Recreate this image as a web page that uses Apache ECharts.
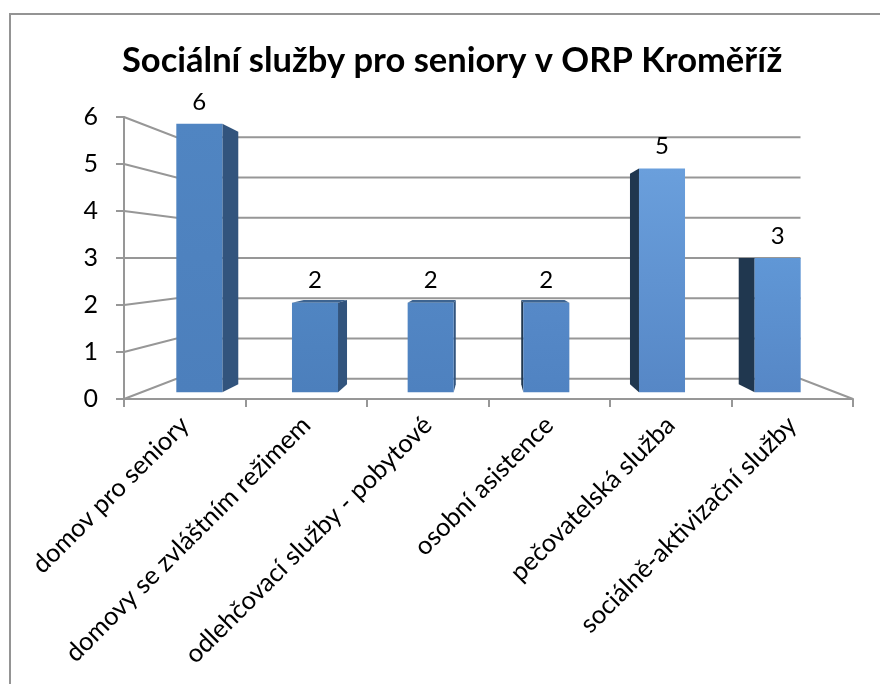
<!DOCTYPE html>
<html>
<head>
<meta charset="utf-8">
<title>Sociální služby pro seniory v ORP Kroměříž</title>
<script src="https://cdn.jsdelivr.net/npm/echarts@6/dist/echarts.min.js"></script>
<style>
  html, body { margin: 0; padding: 0; background: #fff; }
  #chart { width: 880px; height: 684px; }
</style>
</head>
<body>
<div id="chart"></div>
<script>
var categories = ['domov pro seniory', 'domovy se zvláštním režimem', 'odlehčovací služby - pobytové', 'osobní asistence', 'pečovatelská služba', 'sociálně-aktivizační služby'];
var counts = [6, 2, 2, 2, 5, 3];
var yTicks = [0, 1, 2, 3, 4, 5, 6];

var fontName = 'Lato';
var gridColor = '#979797';
var topColors = ['#5085c2', '#5085c2', '#5286c4', '#5689c8', '#6a9fdc', '#6097d6'];
var bottomColors = ['#4c7fbc', '#4c7fbc', '#4e81bf', '#5083c2', '#5687c6', '#5687c6'];

// fake Excel 3D: push a point from the front plane towards the vanishing point
var vanish = [488.5, 258];
var wallDepth = 0.144, barFront = 0.048, barBack = 0.105, barShare = 0.398;
function project(p, d) {
  return [p[0] + (vanish[0] - p[0]) * d, p[1] + (vanish[1] - p[1]) * d];
}

function renderWall(params, api) {
  var sys = params.coordSys;
  var y = api.coord([0, api.value(0)])[1];
  var left = [sys.x, y], right = [sys.x + sys.width, y];
  var backLeft = project(left, wallDepth), backRight = project(right, wallDepth);
  var style = { stroke: gridColor, lineWidth: 2, fill: null };
  var points = api.value(0) === 0 ? [left, backLeft, backRight, right] : [left, backLeft, backRight];
  return { type: 'polyline', shape: { points: points }, style: style, silent: true };
}

function renderBar(params, api) {
  var i = api.value(0), val = api.value(1);
  var top = api.coord([i, val]), base = api.coord([i, 0]);
  var half = api.size([1, 0])[0] * barShare / 2;
  var corner = function (dx, p, d) { return project([p[0] + dx, p[1]], d); };
  var tl = corner(-half, top, barFront), tr = corner(half, top, barFront);
  var bl = corner(-half, base, barFront), br = corner(half, base, barFront);
  var tlb = corner(-half, top, barBack), trb = corner(half, top, barBack);
  var blb = corner(-half, base, barBack), brb = corner(half, base, barBack);
  var kids = [];
  if (tlb[1] < tl[1]) {
    kids.push({ type: 'polygon', shape: { points: [tl, tr, trb, tlb] }, style: { fill: '#3d6491' } });
  }
  if (trb[0] > tr[0]) {
    kids.push({ type: 'polygon', shape: { points: [tr, trb, brb, br] }, style: { fill: '#32547d' } });
  }
  if (tlb[0] < tl[0]) {
    kids.push({ type: 'polygon', shape: { points: [tl, tlb, blb, bl] }, style: { fill: '#20374f' } });
  }
  kids.push({
    type: 'polygon',
    shape: { points: [tl, tr, br, bl] },
    style: {
      fill: new echarts.graphic.LinearGradient(0, 0, 0, 1, [
        { offset: 0, color: topColors[i] },
        { offset: 1, color: bottomColors[i] }
      ])
    }
  });
  kids.push({
    type: 'text',
    style: {
      x: (tl[0] + tr[0]) / 2,
      y: tl[1] - 22,
      text: String(val),
      fill: '#000',
      font: '24px ' + fontName,
      align: 'center',
      verticalAlign: 'middle'
    }
  });
  return { type: 'group', children: kids };
}

var chart = echarts.init(document.getElementById('chart'), null, { renderer: 'canvas' });
chart.setOption({
  animation: false,
  backgroundColor: '#fff',
  textStyle: { fontFamily: fontName },
  title: {
    text: 'Sociální služby pro seniory v ORP Kroměříž',
    left: 117,
    top: 38,
    textStyle: { fontFamily: fontName, fontSize: 34.5, fontWeight: 'bold', color: '#000' }
  },
  graphic: [{
    type: 'rect',
    shape: { x: 10, y: 14, width: 900, height: 700 },
    style: { fill: null, stroke: '#949494', lineWidth: 2 },
    silent: true
  }],
  grid: { left: 124, right: 27, top: 117, bottom: 285 },
  xAxis: {
    type: 'category',
    data: categories,
    axisLine: { lineStyle: { color: gridColor, width: 2 } },
    axisTick: { show: true, length: 8, lineStyle: { color: gridColor, width: 2 } },
    axisLabel: { interval: 0, rotate: 45, fontSize: 25.5, fontFamily: fontName, color: '#000', margin: 22 }
  },
  yAxis: {
    type: 'value',
    min: 0,
    max: 6,
    interval: 1,
    axisLine: { show: true, lineStyle: { color: gridColor, width: 2 } },
    axisTick: { show: true, length: 8, lineStyle: { color: gridColor, width: 2 } },
    splitLine: { show: false },
    axisLabel: { fontSize: 25, fontFamily: fontName, color: '#000', margin: 26, padding: [4, 0, 0, 0] }
  },
  series: [
    { type: 'custom', renderItem: renderWall, data: yTicks, encode: { y: 0 }, z: 1, silent: true },
    {
      type: 'custom',
      renderItem: renderBar,
      data: counts.map(function (c, i) { return [i, c]; }),
      encode: { x: 0, y: 1 },
      z: 2,
      silent: true
    }
  ]
});
</script>
</body>
</html>
